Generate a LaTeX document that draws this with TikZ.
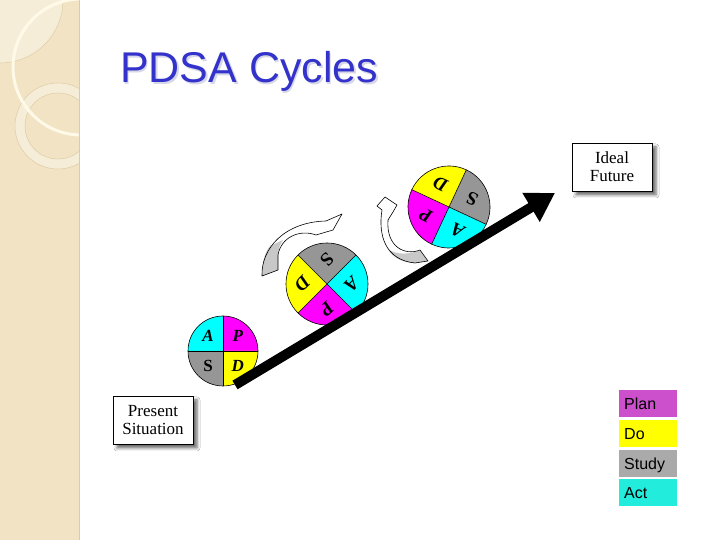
\documentclass[tikz,border=0pt]{standalone}
\usepackage{fontspec}
\setmainfont{Liberation Serif}
\newfontfamily\arialf{Liberation Sans}
\usetikzlibrary{arrows.meta,shadows.blur}
\definecolor{beige}{RGB}{241,227,195}
\definecolor{beigelight}{RGB}{246,237,216}
\definecolor{beigeline}{RGB}{222,203,165}
\definecolor{arcwhite}{RGB}{255,250,232}
\definecolor{titleblue}{RGB}{51,51,204}
\definecolor{titleshadow}{RGB}{215,215,232}
\definecolor{pmag}{RGB}{255,0,255}
\definecolor{pcyan}{RGB}{0,255,255}
\definecolor{pgray}{RGB}{150,150,150}
\definecolor{pyel}{RGB}{255,255,0}
\definecolor{lplan}{RGB}{204,80,204}
\definecolor{ldo}{RGB}{255,255,0}
\definecolor{lstudy}{RGB}{170,170,170}
\definecolor{lact}{RGB}{34,236,220}
\definecolor{arrowgray}{RGB}{200,200,200}
\tikzset{
  pieline/.style={draw=black,line width=0.6pt},
  pieletter/.style={inner sep=0pt,text=black},
  sitbox/.style={draw=black,line width=0.8pt,fill=white,minimum width=80pt,minimum height=48pt,
    align=center,font=\fontsize{17}{18}\selectfont,inner sep=0pt,
    blur shadow={shadow xshift=4pt,shadow yshift=-4pt,shadow blur radius=3pt,shadow opacity=60}},
  legbox/.style={anchor=south west,minimum height=27pt,text width=48pt,inner xsep=5pt,inner ysep=0pt,
    align=left,text height=11.5pt,text depth=0pt,font=\arialf\fontsize{16}{19}\selectfont},
  curvarrow/.style={draw=black,line width=0.6pt,line join=round},
}
% name, x, y, radius, rotation, font size
\newcommand\pdsapie[6]{%
  \begin{scope}[shift={(#2,#3)},rotate=#5]
    \fill[pmag] (0,0) -- (0:#4) arc[start angle=0,end angle=90,radius=#4] -- cycle;
    \fill[pcyan] (0,0) -- (90:#4) arc[start angle=90,end angle=180,radius=#4] -- cycle;
    \fill[pgray] (0,0) -- (180:#4) arc[start angle=180,end angle=270,radius=#4] -- cycle;
    \fill[pyel] (0,0) -- (270:#4) arc[start angle=270,end angle=360,radius=#4] -- cycle;
    \draw[pieline] (0:#4) -- (180:#4) (90:#4) -- (270:#4);
    \draw[pieline] (0,0) circle[radius=#4];
    \node[pieletter,rotate=#5,font=\fontsize{#6}{#6}\selectfont\bfseries\itshape] (#1P) at (45:0.6*#4) {P};
    \node[pieletter,rotate=#5,font=\fontsize{#6}{#6}\selectfont\bfseries\itshape] (#1A) at (135:0.6*#4) {A};
    \node[pieletter,rotate=#5,font=\fontsize{#6}{#6}\selectfont\bfseries] (#1S) at (225:0.6*#4) {S};
    \node[pieletter,rotate=#5,font=\fontsize{#6}{#6}\selectfont\bfseries\itshape] (#1D) at (315:0.6*#4) {D};
  \end{scope}}
\begin{document}
\begin{tikzpicture}[x=1pt,y=1pt]
\useasboundingbox (0,0) rectangle (720,540);
\fill[white] (0,0) rectangle (720,540);
% left decorative strip
\begin{scope}
  \clip (0,0) rectangle (79,540);
  \fill[beige] (0,0) rectangle (79,540);
  \fill[beigelight] (0,540) circle[radius=63];
  \draw[beigeline,line width=0.5pt] (0,540) circle[radius=63];
  \fill[beigelight,even odd rule] (58,414) circle[radius=43] (58,414) circle[radius=33];
  \draw[beigeline,line width=0.5pt] (58,414) circle[radius=43] (58,414) circle[radius=33];
  \draw[arcwhite,line width=3pt] (81,473) circle[radius=68];
\end{scope}
\draw[beigeline,line width=0.5pt] (79,0) -- (79,540);
% title
\node[anchor=base west,inner sep=0pt,font=\arialf\fontsize{43}{50}\selectfont,text=titleshadow] (titleshadow) at (121.5,455.5) {PDSA Cycles};
\node[anchor=base west,inner sep=0pt,font=\arialf\fontsize{43}{50}\selectfont,text=titleblue] (title) at (120,457) {PDSA Cycles};
% curved arrow 1
\fill[white] (262,264) .. controls (261,292) and (285,318) .. (326,319) -- (342,326) -- (333,310) -- (316,305)
  .. controls (300,311) and (281,303) .. (278,285) -- (278,270) -- cycle;
\fill[arrowgray] (262,264) .. controls (262,278) and (265,288) .. (270,294) -- (283,300)
  .. controls (280,296) and (278,290) .. (278,285) -- (278,270) -- cycle;
\draw[curvarrow] (262,264) .. controls (261,292) and (285,318) .. (326,319) -- (342,326) -- (333,310) -- (316,305)
  .. controls (300,311) and (281,303) .. (278,285) -- (278,270) -- cycle;
% curved arrow 2
\fill[white] (385,343) -- (377,334) -- (382,330) .. controls (378,305) and (385,280) .. (415,277) -- (428,279) -- (420,290)
  .. controls (405,284) and (386,293) .. (388,320) -- (393,328) -- (397,335) -- cycle;
\fill[arrowgray] (388,291) .. controls (393,282) and (403,277) .. (415,277) -- (428,279) -- (420,290)
  .. controls (410,286) and (398,284) .. (388,291) -- cycle;
\draw[curvarrow] (385,343) -- (377,334) -- (382,330) .. controls (378,305) and (385,280) .. (415,277) -- (428,279) -- (420,290)
  .. controls (405,284) and (386,293) .. (388,320) -- (393,328) -- (397,335) -- cycle;
% pies
\pdsapie{c1}{223}{189}{35}{0}{17}
\pdsapie{c2}{327}{256}{41}{-135}{19}
\pdsapie{c3}{449}{333}{41}{-205}{19}
% main arrow
\coordinate (start) at (235,155);
\coordinate (tip) at (555,347);
\draw[line width=10pt,-{Triangle[length=28pt,width=32pt]}] (start) -- (tip);
% boxes
\node[sitbox] (ideal) at (612,373) {Ideal\\Future};
\node[sitbox] (present) at (153,120) {Present\\Situation};
% legend
\node[legbox,fill=lplan] (plan) at (619,123) {Plan};
\node[legbox,fill=ldo] (do) at (619,93) {Do};
\node[legbox,fill=lstudy] (study) at (619,63) {Study};
\node[legbox,fill=lact] (act) at (619,34) {Act};
\end{tikzpicture}
\end{document}
